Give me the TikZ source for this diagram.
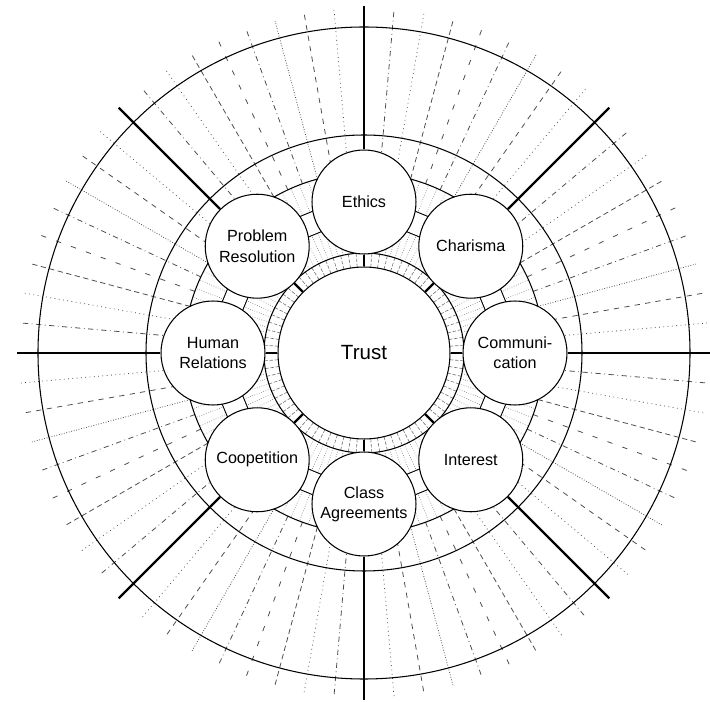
\documentclass[tikz,border=0pt]{standalone}
\usepackage{fontspec}
\setmainfont{Liberation Sans}
\usetikzlibrary{backgrounds}
\definecolor{hachure}{gray}{0.3}
\definecolor{hachureclair}{gray}{0.45}

\begin{document}
\begin{tikzpicture}[
    x=0.02cm, y=0.02cm,
    font=\fontsize{9.2}{11.5}\selectfont,
    coeur/.style={circle, draw, semithick, fill=white, inner sep=0pt,
      minimum size=3.44cm, font=\fontsize{11.7}{14}\selectfont},
    valeur/.style={circle, draw, semithick, fill=white, inner sep=0pt,
      minimum size=2.08cm, align=center},
    anneau/.style={draw, semithick},
    rayon/.style={draw, line width=1.3pt},
    pont/.style={draw, semithick, double distance=0.42cm,
      shorten <=-4pt, shorten >=-4pt},
    barre/.style={draw, line width=1.4pt},
    trait/.style={draw=hachure, line width=0.45pt},
    fin/.style={draw=hachureclair, line width=0.35pt}
  ]
    \useasboundingbox (-364,-349) rectangle (346,353);
    % centre et valeurs
    \node[coeur] (trust) at (0,0) {Trust};
    \node[valeur] (ethics) at (90:151) {Ethics};
    \node[valeur] (charisma) at (45:151) {Charisma};
    \node[valeur] (communication) at (0:151) {Communi-\\cation};
    \node[valeur] (interest) at (-45:151) {Interest};
    \node[valeur] (agreements) at (-90:151) {Class\\Agreements};
    \node[valeur] (coopetition) at (-135:151) {Coopetition};
    \node[valeur] (relations) at (180:151) {Human\\Relations};
    \node[valeur] (resolution) at (135:151) {Problem\\Resolution};
    % rayons epais
    \foreach \a/\n in {90/ethics, 45/charisma, 0/communication, -45/interest,
      -90/agreements, -135/coopetition, 180/relations, 135/resolution} {
      \coordinate (bout-\n) at (\a:347);
      \draw[rayon] (\n) -- (bout-\n);
    }
    \begin{scope}[on background layer]
      % hachures exterieures
      \foreach \s in {0,45,...,315}
        \foreach \k/\motif in {1/dotted, 2/dashed, 3/densely dotted, 4/dash dot,
          5/loosely dashed, 6/densely dashed, 7/dotted, 8/dash dot}
          \draw[trait, \motif] (\s+5*\k:180) -- (\s+5*\k:345);
      % hachures entre les valeurs
      \foreach \a in {0,3,...,357}
        \draw[fin, densely dotted] (\a:100) -- (\a:180);
      % bande autour du centre
      \foreach \a in {0,4.5,...,356}
        \draw[fin, dash pattern=on 2pt off 1pt] (\a:86) -- (\a:100);
      % anneaux
      \draw[anneau] (0,0) circle[radius=100];
      \draw[anneau] (0,0) circle[radius=180];
      \draw[anneau] (0,0) circle[radius=218];
      \draw[anneau] (0,0) circle[radius=326];
      % barres et ponts
      \foreach \n in {ethics, charisma, communication, interest,
        agreements, coopetition, relations, resolution}
        \draw[barre] (trust) -- (\n);
      \draw[pont] (ethics) -- (charisma);
      \draw[pont] (charisma) -- (communication);
      \draw[pont] (communication) -- (interest);
      \draw[pont] (interest) -- (agreements);
      \draw[pont] (agreements) -- (coopetition);
      \draw[pont] (coopetition) -- (relations);
      \draw[pont] (relations) -- (resolution);
      \draw[pont] (resolution) -- (ethics);
    \end{scope}
  \end{tikzpicture}
\end{document}
